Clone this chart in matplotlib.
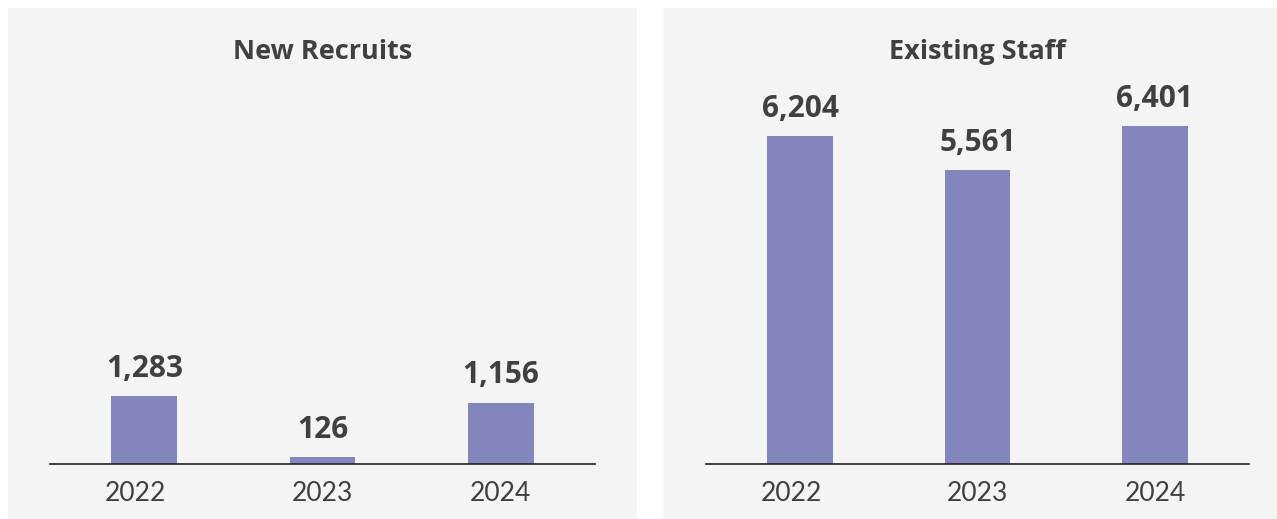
import numpy as np
import matplotlib.pyplot as plt
import matplotlib.transforms as mtransforms
from matplotlib.patches import Rectangle

years = ['2022', '2023', '2024']
new_recruits = [1283, 126, 1156]
existing_staff = [6204, 5561, 6401]
titles = ['New Recruits', 'Existing Staff']

bar_color = '#8385bd'
bg_color = '#f4f4f4'
text_color = '#404040'

W, H = 1277, 519
fig = plt.figure(figsize=(W / 100, H / 100), dpi=100)
fig.patch.set_facecolor('white')

# gray panel backgrounds (pixel coords -> figure fraction)
def px_rect(x0, y0, x1, y1):
    return [x0 / W, 1 - y1 / H, (x1 - x0) / W, (y1 - y0) / H]

for x0, x1 in [(8, 637), (663, 1277)]:
    r = px_rect(x0, 8, x1, 519)
    fig.patches.append(Rectangle((r[0], r[1]), r[2], r[3], transform=fig.transFigure,
                                 facecolor=bg_color, edgecolor='none', zorder=-5))

ymax = 374 / 0.0528
panels = [(50, 595, new_recruits), (706, 1249, existing_staff)]

for (x0, x1, vals), title in zip(panels, titles):
    ax = fig.add_axes(px_rect(x0, 90, x1, 464), zorder=2)
    ax.set_facecolor('none')
    x = np.arange(len(years))
    bars = ax.bar(x, vals, width=0.37, color=bar_color, zorder=2)
    ax.set_xlim(-0.53, 2.53)
    ax.set_ylim(0, ymax)
    for b, v in zip(bars, vals):
        ax.annotate(f'{v:,}', (b.get_x() + b.get_width() / 2, v), xytext=(0, 9),
                    textcoords='offset points', ha='center', va='bottom',
                    fontsize=21.5, fontweight='bold', color=text_color, family='Open Sans')
    ax.set_xticks(x)
    ax.set_xticklabels(years, fontsize=19, color=text_color, family='Lato')
    ax.tick_params(axis='x', length=0, pad=12)
    # first year label sits a bit left of its bar in the original
    lbl = ax.get_xticklabels()[0]
    lbl.set_transform(lbl.get_transform() + mtransforms.ScaledTranslation(-0.09, 0, fig.dpi_scale_trans))
    ax.set_yticks([])
    for s in ['top', 'right', 'left']:
        ax.spines[s].set_visible(False)
    ax.spines['bottom'].set_color('#222222')
    ax.spines['bottom'].set_linewidth(1.2)
    fig.text(((x0 + x1) / 2) / W, 1 - 52 / H, title, ha='center', va='center',
             fontsize=19.5, fontweight='bold', color=text_color, family='Open Sans')

fig.savefig('out.png', dpi=100)
